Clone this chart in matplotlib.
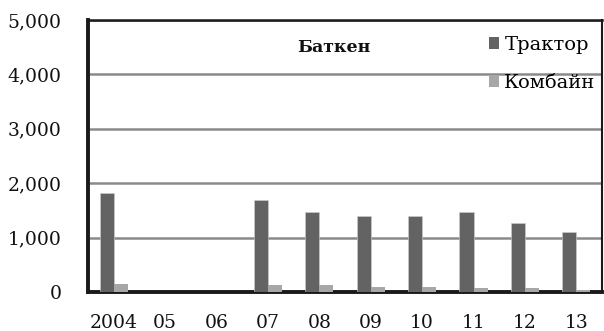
import matplotlib
matplotlib.use("Agg")
import matplotlib.pyplot as plt
from matplotlib.patches import Patch
from matplotlib.ticker import FuncFormatter
import numpy as np

years = ["2004", "05", "06", "07", "08", "09", "10", "11", "12", "13"]
tractor = [1820, 0, 0, 1700, 1470, 1390, 1390, 1470, 1260, 1110]
combine = [150, 0, 0, 120, 130, 90, 90, 75, 75, 30]
y_ticks = [0, 1000, 2000, 3000, 4000, 5000]

plt.rcParams["font.family"] = ["DejaVu Serif"]

fig = plt.figure(figsize=(6.04, 3.31), dpi=100)
ax = fig.add_axes([88 / 604, 39 / 331, 514 / 604, 272 / 331])

x = np.arange(len(years))
w = 0.275
c_tr = "#636363"
c_cb = "#a7a7a9"
ax.bar(x - w / 2, tractor, width=w, color=c_tr, edgecolor="#d0d0d0", linewidth=0.4, zorder=3)
ax.bar(x + w / 2, combine, width=w, color=c_cb, edgecolor="none", zorder=3)

ax.set_xlim(-0.5, len(years) - 0.5)
ax.set_ylim(0, 5000)
ax.set_yticks(y_ticks)
ax.yaxis.set_major_formatter(FuncFormatter(lambda v, p: f"{int(v):,}"))
ax.set_xticks(x)
ax.set_xticklabels(years)
ax.tick_params(axis="both", length=0, labelsize=13.5, colors="#111111")
ax.tick_params(axis="y", pad=19)
ax.tick_params(axis="x", pad=16)

ax.yaxis.grid(True, color="#8a8a8a", linewidth=1.8, zorder=1)
ax.set_axisbelow(True)

for side, lw in (("left", 2.8), ("bottom", 2.8), ("top", 1.8), ("right", 1.5)):
    ax.spines[side].set_linewidth(lw)
    ax.spines[side].set_color("#1a1a1a")

ax.text(0.479, 0.9, "Баткен", transform=ax.transAxes, ha="center", va="center",
        fontsize=12.5, fontweight="bold", color="#111111")

handles = [Patch(facecolor=c_tr, edgecolor="none", label="Трактор"),
           Patch(facecolor=c_cb, edgecolor="none", label="Комбайн")]
ax.legend(handles=handles, loc="upper left", bbox_to_anchor=(0.772, 0.955),
          frameon=False, fontsize=14, handlelength=0.55, handleheight=0.55,
          handletextpad=0.25, labelspacing=1.0, borderaxespad=0.0,
          borderpad=0.2)

fig.savefig("out.png", dpi=100)
